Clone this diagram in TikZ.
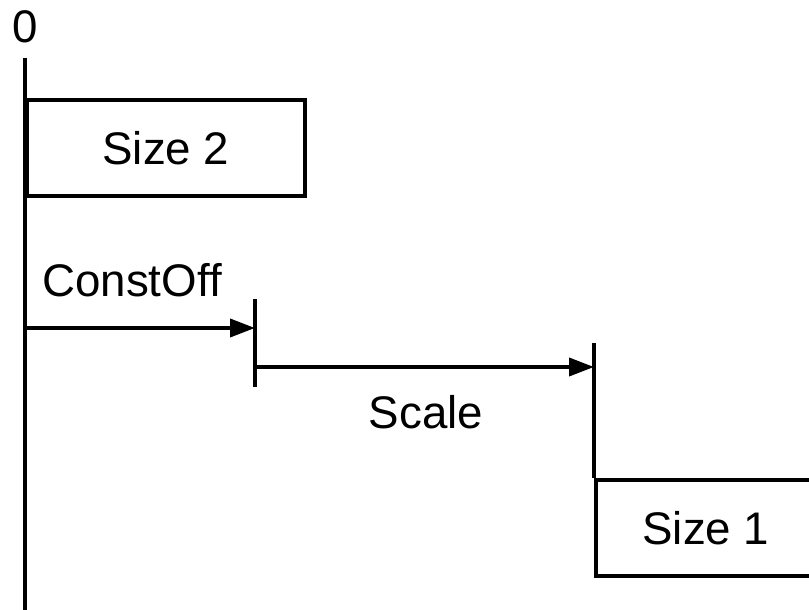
\documentclass[tikz,border=0pt]{standalone}
\usepackage{fontspec}
\setmainfont{Liberation Sans}
\usepackage{tikz}
\usetikzlibrary{arrows.meta,positioning}

\begin{document}
\begin{tikzpicture}[
    lbl/.style={font=\fontsize{26}{31}\selectfont, inner sep=0pt},
    sizebox/.style={draw, line width=2.2pt, font=\fontsize{26}{31}\selectfont,
        anchor=north west, minimum height=1.92cm, inner sep=0pt},
    dimline/.style={line width=2.2pt},
    dimarrow/.style={line width=2.2pt, -{Triangle[length=0.5cm,width=0.36cm]}}
]
    \useasboundingbox (0,0) rectangle (16.18,12.2);
    \clip (0,0) rectangle (16.18,12.2);

    % Zero axis
    \node[lbl] (zero) at (0.5,11.66) {0};
    \coordinate (axtop) at (0.5,11.04);
    \coordinate (axbot) at (0.5,-0.2);
    \draw[dimline] (axtop) -- (axbot);

    % Size 2 block on the axis
    \node[sizebox, minimum width=5.56cm] (size2) at (0.5,10.24) {Size 2};

    % Constant offset
    \node[lbl] (constoff) at (2.64,6.6) {ConstOff};
    \coordinate (offstart) at (0.5,5.64);
    \coordinate (offend) at (5.1,5.64);
    \coordinate (tickatop) at (5.1,6.22);
    \coordinate (tickabot) at (5.1,4.46);
    \draw[dimline] (tickatop) -- (tickabot);
    \draw[dimarrow] (offstart) -- (offend);

    % Scale
    \coordinate (scalestart) at (5.1,4.86);
    \coordinate (scaleend) at (11.88,4.86);
    \coordinate (tickbtop) at (11.88,5.34);
    \node[lbl] (scale) at (8.52,3.96) {Scale};

    % Size 1 block
    \node[sizebox, minimum width=4.4cm] (size1) at (11.88,2.64) {Size 1};
    \draw[dimline] (tickbtop) -- (size1.north west);
    \draw[dimarrow] (scalestart) -- (scaleend);
\end{tikzpicture}
\end{document}
